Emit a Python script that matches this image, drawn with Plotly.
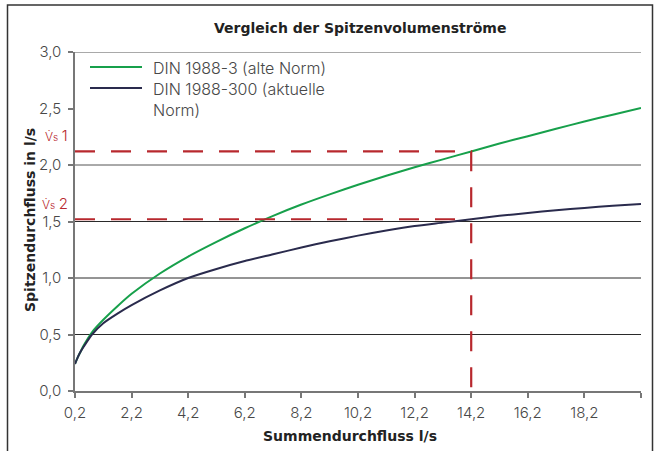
import plotly.graph_objects as go

# Summed flow (l/s) and peak flow (l/s) for both standards
flow_sum = [0.2, 0.3, 0.4, 0.5, 0.8, 1.2, 1.7, 2.2, 3.2, 4.2, 5.2, 6.2, 7.2, 8.2,
            9.2, 10.2, 11.2, 12.2, 13.2, 14.2, 15.2, 16.2, 17.2, 18.2, 19.2, 20.2]
peak_din_1988_3 = [0.24, 0.30, 0.35, 0.40, 0.52, 0.63, 0.75, 0.86, 1.04, 1.19, 1.32,
                   1.44, 1.55, 1.65, 1.74, 1.825, 1.905, 1.98, 2.05, 2.12, 2.19,
                   2.255, 2.32, 2.385, 2.445, 2.505]
peak_din_1988_300 = [0.24, 0.30, 0.35, 0.39, 0.50, 0.60, 0.685, 0.76, 0.89, 1.00, 1.08,
                     1.15, 1.21, 1.27, 1.325, 1.375, 1.42, 1.46, 1.49, 1.52, 1.55,
                     1.575, 1.60, 1.62, 1.64, 1.655]

series_names = ["DIN 1988-3 (alte Norm)", "DIN 1988-300 (aktuelle<br>Norm)"]

# Marked operating point
marked_flow = 14.2
vs1 = peak_din_1988_3[flow_sum.index(marked_flow)]
vs2 = peak_din_1988_300[flow_sum.index(marked_flow)]

x_ticks = [0.2, 2.2, 4.2, 6.2, 8.2, 10.2, 12.2, 14.2, 16.2, 18.2, 20.2]
x_tick_labels = ["0,2", "2,2", "4,2", "6,2", "8,2", "10,2", "12,2", "14,2", "16,2", "18,2", ""]
y_ticks = [0.0, 0.5, 1.0, 1.5, 2.0, 2.5, 3.0]
y_tick_labels = ["0,0", "0,5", "1,0", "1,5", "2,0", "2,5", "3,0"]
grid_levels = [0.5, 1.0, 1.5, 2.0, 3.0]

W, H = 654, 451
ML, MR, MT, MB = 75, 13, 52, 60
PW, PH = W - ML - MR, H - MT - MB


def px(xp):
    return (xp - ML) / PW


def py(yp):
    return (H - MB - yp) / PH


GREEN = "#17a04b"
NAVY = "#2a2b4d"
RED = "#b8282e"
TXT = "#484848"
LABEL_FONT = dict(family="Inter", size=15, color=TXT, weight=300)
LEGEND_FONT = dict(family="Inter", size=16, color=TXT, weight=300)
BOLD_FONT = dict(family="DejaVu Sans", size=14, color="#222222", weight="bold")

fig = go.Figure()

fig.add_trace(go.Scatter(x=flow_sum, y=peak_din_1988_3, mode="lines",
                         line=dict(color=GREEN, width=2, shape="spline", smoothing=0.6),
                         showlegend=False, hoverinfo="skip"))
fig.add_trace(go.Scatter(x=flow_sum, y=peak_din_1988_300, mode="lines",
                         line=dict(color=NAVY, width=2, shape="spline", smoothing=0.6),
                         showlegend=False, hoverinfo="skip"))

# Red guide lines to the marked point
fig.add_trace(go.Scatter(x=[flow_sum[0], marked_flow, marked_flow], y=[vs1, vs1, 0],
                         mode="lines", line=dict(color=RED, width=2.2, dash="20px,16px"),
                         showlegend=False, hoverinfo="skip"))
fig.add_trace(go.Scatter(x=[flow_sum[0], marked_flow], y=[vs2, vs2],
                         mode="lines", line=dict(color=RED, width=2.2, dash="20px,16px"),
                         showlegend=False, hoverinfo="skip"))

shapes = []
for g in grid_levels:
    shapes.append(dict(type="line", xref="paper", yref="y", x0=0, x1=1, y0=g, y1=g,
                       line=dict(color="#555555" if g in (2.0, 3.0) else "#2a2a2a", width=1),
                       layer="below"))

# Outer frame
shapes.append(dict(type="rect", xref="paper", yref="paper",
                   x0=px(7.5), x1=px(652.5), y0=py(470), y1=py(5),
                   line=dict(color="#333333", width=1.5), fillcolor="rgba(0,0,0,0)"))

# Legend samples
legend_colors = [GREEN, NAVY]
legend_rows = [67, 88]
for c, yr in zip(legend_colors, legend_rows):
    shapes.append(dict(type="line", xref="paper", yref="paper",
                       x0=px(90), x1=px(142), y0=py(yr), y1=py(yr),
                       line=dict(color=c, width=2)))

annotations = [
    dict(text="Vergleich der Spitzenvolumenströme", xref="paper", yref="paper",
         x=px(360), y=py(28), showarrow=False, font=BOLD_FONT,
         xanchor="center", yanchor="middle"),
    dict(text="Summendurchfluss l/s", xref="paper", yref="paper",
         x=px(350), y=py(436), showarrow=False, font=BOLD_FONT,
         xanchor="center", yanchor="middle"),
    dict(text="Spitzendurchfluss in l/s", xref="paper", yref="paper",
         x=px(30), y=py(220), showarrow=False, font=BOLD_FONT, textangle=-90,
         xanchor="center", yanchor="middle"),
]
for name, yr in zip(series_names, legend_rows):
    annotations.append(dict(text=name, xref="paper", yref="paper", x=px(151), y=py(yr - 11),
                            showarrow=False, font=LEGEND_FONT, xanchor="left", yanchor="top",
                            align="left"))

for lbl, val in (("1", vs1), ("2", vs2)):
    annotations.append(dict(
        text="V\u0307<span style='font-size:10px'>s</span> <span style='font-size:15px'>"
             + lbl + "</span>",
        xref="paper", yref="y", x=px(69), y=val, yshift=16, showarrow=False,
        font=dict(family="Inter", size=12, color=RED, weight=300),
        xanchor="right", yanchor="middle", borderpad=0))

fig.update_layout(
    width=W, height=H,
    margin=dict(l=ML, r=MR, t=MT, b=MB),
    paper_bgcolor="white", plot_bgcolor="white",
    shapes=shapes, annotations=annotations,
    showlegend=False,
    xaxis=dict(range=[0.2, 20.2], tickvals=x_ticks, ticktext=x_tick_labels,
               showgrid=False, zeroline=False, showline=True, linecolor="#777777",
               linewidth=1.5, ticks="outside", ticklen=5, tickcolor="#777777",
               tickwidth=1.5, tickfont=LABEL_FONT, ticklabelstandoff=2),
    yaxis=dict(range=[0, 3.0], tickvals=y_ticks, ticktext=y_tick_labels,
               showgrid=False, zeroline=False, showline=True, linecolor="#777777",
               linewidth=1.5, ticks="outside", ticklen=5, tickcolor="#777777",
               tickwidth=1.5, tickfont=LABEL_FONT, ticklabelstandoff=4),
)

fig.write_html("out.html")
